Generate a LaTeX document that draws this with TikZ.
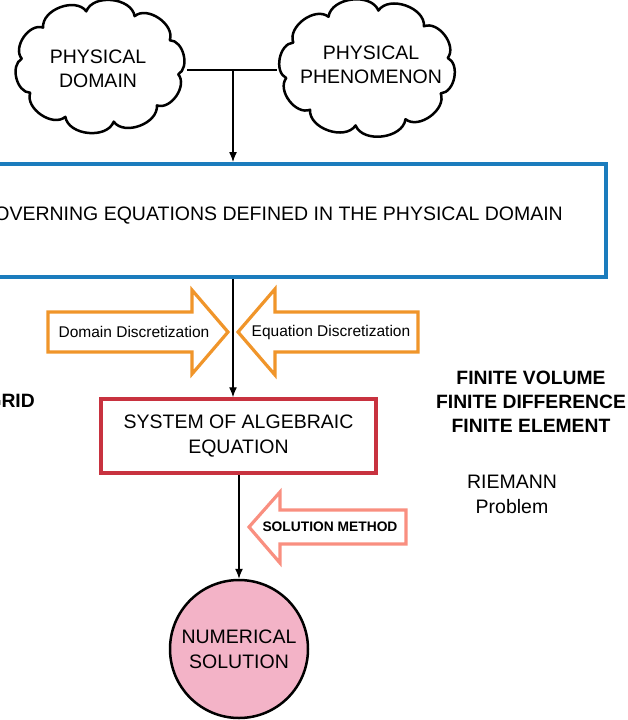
\documentclass[tikz,border=0pt]{standalone}
\usepackage{fontspec}
\setmainfont{Liberation Sans}
\usetikzlibrary{shapes.geometric,arrows.meta,calc}
\definecolor{boxblue}{HTML}{1B7CBD}
\definecolor{boxred}{HTML}{C8323F}
\definecolor{arrorange}{HTML}{F0952A}
\definecolor{arrsalmon}{HTML}{F98F80}
\definecolor{circpink}{HTML}{F3B3C7}
\newcommand\puffcloud[5]{% node, a, b, puffs, offset
  \draw[cloudline] ($(#1.center)+({#5}:#2 and #3)$)
    \foreach \k in {1,...,#4}{ to[bend left=75] ($(#1.center)+({#5+\k*360/#4}:#2 and #3)$)} -- cycle;}
\begin{document}
\begin{tikzpicture}[x=1pt,y=-1pt,
  txt/.style={inner sep=0pt,align=center,font=\fontsize{19.5}{25}\selectfont},
  boldtxt/.style={inner sep=0pt,align=center,font=\fontsize{19.3}{24}\selectfont\bfseries},
  cloudnode/.style={ellipse,inner sep=0pt,align=center,font=\fontsize{19.5}{24}\selectfont},
  cloudline/.style={draw=black,line width=2.5pt,line join=round},
  conn/.style={line width=1.3pt,draw=black},
  arr/.style={conn,-{Latex[length=10pt,width=8pt]}},
  orangearrow/.style={draw=arrorange,line width=3.2pt,fill=white},
  salmonarrow/.style={draw=arrsalmon,line width=3.2pt,fill=white}]
\useasboundingbox (0,0) rectangle (627,720);
\clip (0,0) rectangle (627,720);

% clouds
\node[cloudnode,minimum width=174pt,minimum height=123pt] (pd) at (100,66.5) {};
\puffcloud{pd}{79}{56}{10}{8}
\node[txt,font=\fontsize{19.5}{24}\selectfont] (pdtext) at (98,69) {PHYSICAL\\DOMAIN};
\node[cloudnode,minimum width=180pt,minimum height=128pt] (pp) at (367,68) {};
\puffcloud{pp}{82}{58}{10}{-10}
\node[txt,font=\fontsize{19.5}{24}\selectfont] (pptext) at (371,65) {PHYSICAL\\PHENOMENON};
\coordinate (j) at (233,70);
\draw[conn] (pd.east |- j) -- (pp.west |- j);

% governing equations box
\node[draw=boxblue,line width=4pt,minimum width=668pt,minimum height=113pt,inner sep=0pt] (gov) at (272,220.5) {};
\node[txt,anchor=east] (govtext) at (563,216) {GOVERNING EQUATIONS DEFINED IN THE PHYSICAL DOMAIN};
\draw[arr] (j) -- (gov.north -| j);

% discretization arrows
\draw[orangearrow] (48,312) -- (192,312) -- (192,290) -- (228,332) -- (192,374) -- (192,352) -- (48,352) -- cycle;
\node[inner sep=0pt,font=\fontsize{15.5}{18}\selectfont] (dd) at (134,332) {Domain Discretization};
\draw[orangearrow] (418,312) -- (275,312) -- (275,289) -- (238,332) -- (275,375) -- (275,352) -- (418,352) -- cycle;
\node[inner sep=0pt,font=\fontsize{15.5}{18}\selectfont] (ed) at (331,332) {Equation Discretization};

% system box
\node[draw=boxred,line width=3.5pt,minimum width=275pt,minimum height=74pt,inner sep=0pt,txt] (sys) at (238.5,436) {SYSTEM OF ALGEBRAIC\\EQUATION};
\draw[arr] (gov.south -| j) -- (sys.north -| j);

% solution method arrow
\draw[salmonarrow] (406,510) -- (280,510) -- (280,492) -- (249,527) -- (280,563) -- (280,544) -- (406,544) -- cycle;
\node[inner sep=0pt,font=\fontsize{13.8}{16}\selectfont\bfseries] (sm) at (330,527) {SOLUTION METHOD};

% numerical solution
\node[circle,draw=black,line width=2.5pt,fill=circpink,minimum size=138pt,inner sep=0pt,txt] (num) at (239,649) {NUMERICAL\\SOLUTION};
\draw[arr] (sys.south -| num.north) -- (num.north);

% side texts
\node[boldtxt,anchor=east] (grid) at (35,401) {GRID};
\node[boldtxt] (fin) at (531,402) {FINITE VOLUME\\FINITE DIFFERENCE\\FINITE ELEMENT};
\node[txt] (rie) at (512,494.5) {RIEMANN\\Problem};
\end{tikzpicture}
\end{document}
